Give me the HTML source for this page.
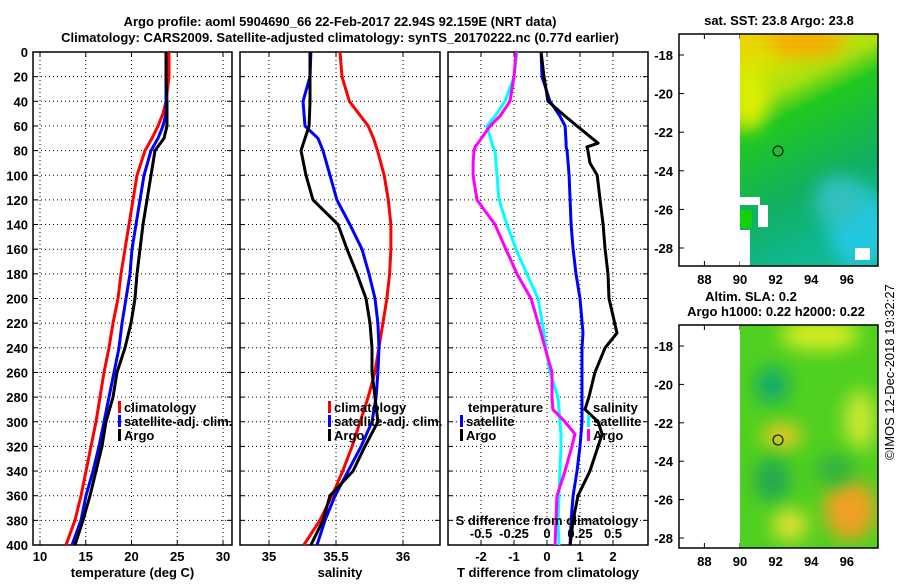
<!DOCTYPE html>
<html><head><meta charset="utf-8"><style>
body{margin:0;background:#fff;}
svg text{font-family:"Liberation Sans",sans-serif;font-weight:bold;font-size:13px;}
</style></head><body>
<svg id="c" width="900" height="580" xmlns="http://www.w3.org/2000/svg">
<defs>
<filter id="bl" x="-50%" y="-50%" width="200%" height="200%"><feGaussianBlur stdDeviation="9"/></filter>
<clipPath id="m1c"><rect x="740" y="34" width="138" height="232"/></clipPath>
<clipPath id="m2c"><rect x="740" y="325" width="138" height="223"/></clipPath>
<linearGradient id="sstg" x1="0" y1="0" x2="0.3" y2="1"><stop offset="0" stop-color="#f0d000"/><stop offset="0.15" stop-color="#d8e400"/><stop offset="0.3" stop-color="#a8e010"/><stop offset="0.42" stop-color="#20c820"/><stop offset="0.75" stop-color="#10b060"/><stop offset="1" stop-color="#10b890"/></linearGradient>
</defs>
<text x="340" y="26" text-anchor="middle" font-size="14">Argo profile: aoml 5904690_66 22-Feb-2017 22.94S 92.159E (NRT data)</text>
<text x="340" y="42" text-anchor="middle" font-size="14">Climatology: CARS2009. Satellite-adjusted climatology: synTS_20170222.nc (0.77d earlier)</text>
<g id="g"></g>
<g>
<text x="779" y="25" text-anchor="middle">sat. SST: 23.8 Argo: 23.8</text>
<g clip-path="url(#m1c)">
<rect x="740" y="34" width="138" height="232" fill="url(#sstg)"/>
<ellipse cx="805" cy="42" rx="40" ry="14" fill="#f8a800" filter="url(#bl)"/>
<ellipse cx="860" cy="230" rx="30" ry="40" fill="#20c8e0" filter="url(#bl)"/>
<ellipse cx="840" cy="200" rx="25" ry="25" fill="#30c0c0" filter="url(#bl)"/>
<ellipse cx="750" cy="100" rx="15" ry="30" fill="#e0f000" filter="url(#bl)"/>
<rect x="740" y="197" width="20" height="8" fill="#fff"/><rect x="758" y="205" width="10" height="22" fill="#fff"/>
<rect x="740" y="230" width="10" height="36" fill="#fff"/><rect x="855" y="248" width="15" height="12" fill="#fff"/>
<rect x="740" y="210" width="12" height="18" fill="#10d010"/>
</g>
<rect x="679" y="34" width="199" height="232" fill="none" stroke="#000" stroke-width="1.5"/>
<circle cx="778" cy="151" r="5" fill="none" stroke="#000"/>
</g>
<g>
<text x="751" y="301" text-anchor="middle">Altim. SLA: 0.2</text>
<text x="776" y="316" text-anchor="middle">Argo h1000: 0.22 h2000: 0.22</text>
<g clip-path="url(#m2c)">
<rect x="740" y="325" width="138" height="223" fill="#50d020"/>
<ellipse cx="820" cy="335" rx="40" ry="15" fill="#d8ee20" filter="url(#bl)"/>
<ellipse cx="772" cy="385" rx="16" ry="18" fill="#10a870" filter="url(#bl)"/>
<ellipse cx="782" cy="436" rx="20" ry="12" fill="#f0c820" filter="url(#bl)"/>
<ellipse cx="772" cy="480" rx="18" ry="22" fill="#20a850" filter="url(#bl)"/>
<ellipse cx="850" cy="510" rx="26" ry="30" fill="#f0a020" filter="url(#bl)"/>
<ellipse cx="790" cy="525" rx="18" ry="16" fill="#e0e030" filter="url(#bl)"/>
<ellipse cx="860" cy="420" rx="16" ry="30" fill="#c8e830" filter="url(#bl)"/>
<ellipse cx="835" cy="470" rx="20" ry="15" fill="#30b040" filter="url(#bl)"/>
</g>
<rect x="679" y="325" width="199" height="223" fill="none" stroke="#000" stroke-width="1.5"/>
<circle cx="778" cy="440" r="5" fill="none" stroke="#000"/>
</g>
<text transform="translate(894,460) rotate(-90)" font-size="13" style="font-weight:normal">©IMOS 12-Dec-2018 19:32:27</text>
</svg>
<script>
const tDepths=[0,20,40,50,60,70,80,100,120,140,160,180,200,220,240,260,280,300,320,340,360,380,400];
const tClim=[24.10,24.10,23.77,23.44,22.90,22.24,21.48,20.60,20.16,19.73,19.29,18.85,18.52,17.98,17.54,16.99,16.56,16.12,15.57,15.03,14.48,13.83,12.84];
const tSat=[23.77,23.77,23.77,23.77,23.44,22.90,22.13,21.37,20.93,20.49,20.05,19.84,19.40,18.96,18.63,18.09,17.54,16.99,16.45,15.79,15.03,14.48,13.50];
const tArgo=[23.77,23.77,23.88,23.88,23.88,23.55,22.57,22.13,21.69,21.26,20.93,20.60,20.38,19.95,19.29,18.42,17.98,17.21,16.78,16.12,15.46,14.70,13.83];
const sDepths=[0,20,40,60,70,80,100,120,140,160,180,200,220,240,260,280,300,320,340,360,380,400];
const sClim=[35.53,35.545,35.60,35.74,35.78,35.81,35.86,35.89,35.91,35.91,35.90,35.88,35.85,35.82,35.79,35.74,35.68,35.62,35.55,35.47,35.38,35.26];
const sSat=[35.313,35.306,35.254,35.269,35.366,35.403,35.455,35.507,35.604,35.694,35.746,35.791,35.813,35.821,35.813,35.799,35.769,35.687,35.590,35.493,35.418,35.358];
const sArgo=[35.306,35.306,35.306,35.299,35.269,35.239,35.276,35.328,35.515,35.582,35.657,35.724,35.754,35.769,35.769,35.791,35.813,35.716,35.627,35.455,35.403,35.313];
const dDepths=[0,20,40,52,60,74,77,80,90,100,120,140,160,180,200,228,240,260,280,290,300,310,320,340,360,380,400];
const dTArgo=[-0.18,-0.09,0.03,0.55,0.91,1.55,1.21,1.24,1.30,1.52,1.61,1.70,1.76,1.85,1.88,2.12,1.76,1.45,1.27,1.15,1.55,1.67,1.55,1.30,0.94,0.79,0.70];
const dTSat=[-0.18,-0.15,0.09,0.39,0.55,0.58,0.58,0.61,0.64,0.67,0.70,0.73,0.79,0.88,1.0,1.09,1.06,1.06,1.06,1.06,1.06,1.03,1.0,0.91,0.79,0.73,0.70];
const dSSat=[-0.227,-0.25,-0.318,-0.394,-0.455,-0.417,-0.409,-0.394,-0.386,-0.379,-0.364,-0.303,-0.235,-0.152,-0.068,-0.023,-0.008,0.023,0.083,0.091,0.098,0.106,0.106,0.098,0.091,0.083,0.091];
const dSArgo=[-0.235,-0.25,-0.28,-0.356,-0.432,-0.523,-0.545,-0.553,-0.56,-0.56,-0.53,-0.394,-0.311,-0.227,-0.121,-0.045,-0.015,0.038,0.038,0.045,0.136,0.212,0.189,0.136,0.076,0.068,0.061];
const depthTicks=[0,20,40,60,80,100,120,140,160,180,200,220,240,260,280,300,320,340,360,380,400];
const tTicks=[10,15,20,25,30], sTicks=[35,35.5,36], dTTicks=[-2,-1,0,1,2], dSTicks=[-0.5,-0.25,0,0.25,0.5];
const lonTicks=[88,90,92,94,96], latTicks=[-18,-20,-22,-24,-26,-28];
const NS='http://www.w3.org/2000/svg', G=document.getElementById('g');
const Y0=52,Y1=545; const yS=d=>Y0+d/400*(Y1-Y0);
function mk(t,a,p){const e=document.createElementNS(NS,t);for(const k in a)e.setAttribute(k,a[k]);(p||G).appendChild(e);return e;}
const panels=[
 {x0:33,x1:232,sc:v=>40+(v-10)*9.15,ticks:tTicks,lab:'temperature (deg C)',nm:'temperature-panel'},
 {x0:240,x1:440,sc:v=>269+(v-35)*134,ticks:sTicks,lab:'salinity',nm:'salinity-panel'},
 {x0:448,x1:648,sc:v=>547+v*33,ticks:dTTicks,lab:'T difference from climatology',nm:'difference-panel'}];
const sS=v=>547+v*132;
panels.forEach((p,i)=>{
 const g=mk('g',{});
 
 
 depthTicks.forEach(d=>{const y=yS(d);
  mk('line',{x1:p.x0,x2:p.x1,y1:y,y2:y,stroke:'#000','stroke-dasharray':'1 3'},g);
  mk('line',{x1:p.x0,x2:p.x0+5,y1:y,y2:y,stroke:'#000'},g);
  mk('line',{x1:p.x1-5,x2:p.x1,y1:y,y2:y,stroke:'#000'},g);
  if(i==0){const t=mk('text',{x:28,y:y+5,'text-anchor':'end','font-size':14},g);t.textContent=d;}
 });
 p.ticks.forEach(v=>{const x=p.sc(v);
  mk('line',{x1:x,x2:x,y1:Y0,y2:Y1,stroke:'#000','stroke-dasharray':'1 3'},g);
  mk('line',{x1:x,x2:x,y1:Y1-5,y2:Y1,stroke:'#000'},g);
  mk('line',{x1:x,x2:x,y1:Y0,y2:Y0+5,stroke:'#000'},g);
  const t=mk('text',{x:x,y:561,'text-anchor':'middle'},g);t.textContent=v;
 });
 const t=mk('text',{x:(p.x0+p.x1)/2,y:577,'text-anchor':'middle'},g);t.textContent=p.lab;
 mk('rect',{x:p.x0,y:Y0,width:p.x1-p.x0,height:Y1-Y0,fill:'none',stroke:'#000','stroke-width':1.5},g);
});
function line(xs,ds,sc,col,nm){const pts=xs.map((v,i)=>sc(v).toFixed(1)+','+yS(ds[i]).toFixed(1)).join(' ');
 const e=mk('polyline',{points:pts,fill:'none',stroke:col,'stroke-width':3,'stroke-linejoin':'round'});
 
 }
line(tClim,tDepths,panels[0].sc,'#f00','temp-climatology-line');
line(tSat,tDepths,panels[0].sc,'#00f','temp-satellite-line');
line(tArgo,tDepths,panels[0].sc,'#000','temp-argo-line');
line(sClim,sDepths,panels[1].sc,'#f00','sal-climatology-line');
line(sSat,sDepths,panels[1].sc,'#00f','sal-satellite-line');
line(sArgo,sDepths,panels[1].sc,'#000','sal-argo-line');
line(dSSat,dDepths,sS,'#0ff','sdiff-satellite-line');
line(dSArgo,dDepths,sS,'#f0f','sdiff-argo-line');
line(dTSat,dDepths,panels[2].sc,'#00f','tdiff-satellite-line');
line(dTArgo,dDepths,panels[2].sc,'#000','tdiff-argo-line');
dSTicks.forEach(v=>{const t=mk('text',{x:sS(v),y:538,'text-anchor':'middle'});t.textContent=v;});
const st=mk('text',{x:547,y:525,'text-anchor':'middle'});st.textContent='S difference from climatology';
function leg(x,y,col,txt,nm){const g=mk('g',{});
 if(col)mk('rect',{x:x,y:y-11,width:3,height:12,fill:col},g);
 const t=mk('text',{x:x+6,y:y},g);t.textContent=txt;}
leg(118,412,'#f00','climatology','legend-climatology');
leg(118,426,'#00f','satellite-adj. clim.','legend-satellite-adj');
leg(118,440,'#000','Argo','legend-argo');
leg(328,412,'#f00','climatology','legend-sal-climatology');
leg(328,426,'#00f','satellite-adj. clim.','legend-sal-satellite-adj');
leg(328,440,'#000','Argo','legend-sal-argo');
leg(462,412,null,'temperature','legend-temperature-header');
leg(460,426,'#00f','satellite','legend-t-satellite');
leg(460,440,'#000','Argo','legend-t-argo');
leg(587,412,null,'salinity','legend-salinity-header');
leg(587,426,'#0ff','satellite','legend-s-satellite');
leg(587,440,'#f0f','Argo','legend-s-argo');
const lonX=v=>740+(v-90)*17.8;
[[55,248,34,266],[346,538,325,548]].forEach(m=>{
 const ly=v=>m[0]+(-18-v)/10*(m[1]-m[0]);
 latTicks.forEach(v=>{const y=ly(v);mk('line',{x1:679,x2:684,y1:y,y2:y,stroke:'#000'});mk('line',{x1:873,x2:878,y1:y,y2:y,stroke:'#000'});
  const t=mk('text',{x:673,y:y+5,'text-anchor':'end'});t.textContent=v;});
 lonTicks.forEach(v=>{const x=lonX(v);mk('line',{x1:x,x2:x,y1:m[3]-5,y2:m[3],stroke:'#000'});mk('line',{x1:x,x2:x,y1:m[2],y2:m[2]+5,stroke:'#000'});
  const t=mk('text',{x:x,y:m[3]+18,'text-anchor':'middle'});t.textContent=v;});
});
</script>
</body></html>
